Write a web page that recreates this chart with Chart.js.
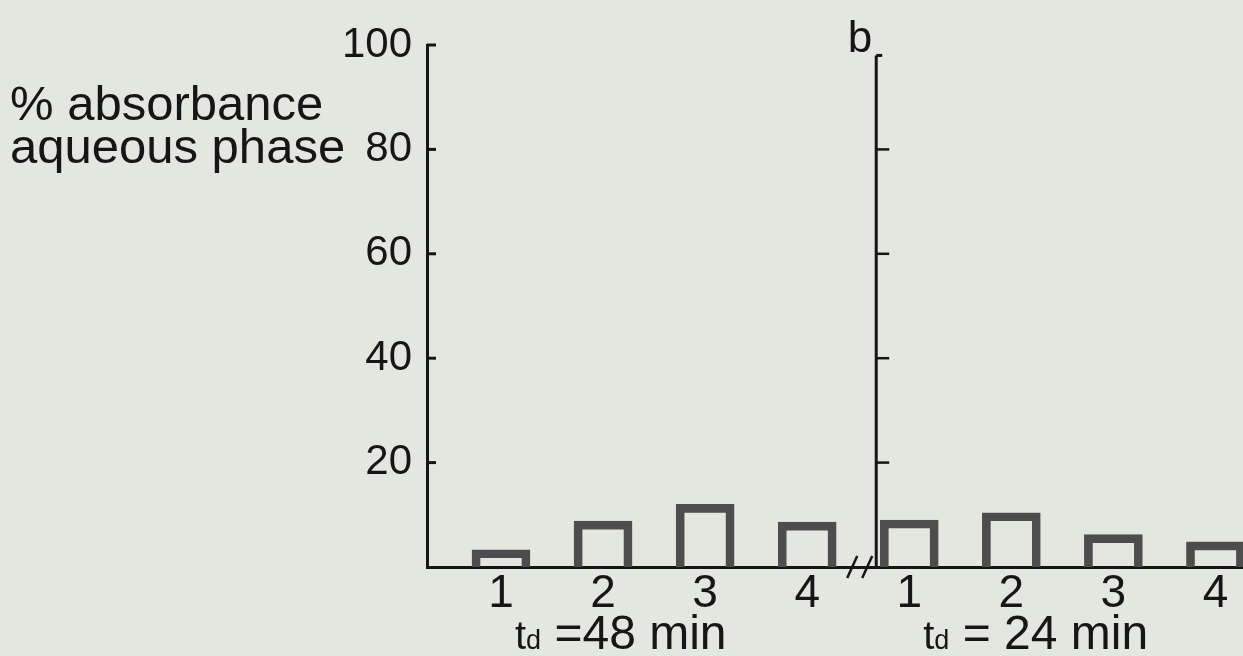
<!DOCTYPE html>
<html>
<head>
<meta charset="utf-8">
<script src="https://cdn.jsdelivr.net/npm/chart.js@4.4.1/dist/chart.umd.min.js"></script>
<style>
  html, body { margin: 0; padding: 0; background: #e3e7e0; }
  #chart { display: block; }
</style>
</head>
<body>
<canvas id="chart" width="1243" height="656"></canvas>
<script>
// data
const sampleLabels = ["1", "2", "3", "4"];
const groupLabels = [" =48 min", " = 24 min"]; // each one preceded by "td"
const absorb48 = [3.3, 8.8, 12, 8.6];
const absorb24 = [9, 10.4, 6.2, 4.8];
const yTickValues = [20, 40, 60, 80, 100];
const rightTickValues = [20, 40, 60, 80];

const INK = "#161616";
const FONT = "'Liberation Sans', Arial, sans-serif";

const values = absorb48.concat(absorb24);
const points = values.map((v, i) => ({ x: i + 1, y: v }));

function line(ctx, x1, y1, x2, y2) {
  ctx.beginPath();
  ctx.moveTo(x1, y1);
  ctx.lineTo(x2, y2);
  ctx.stroke();
}

const decor = {
  id: "decor",
  afterDraw(chart) {
    const ctx = chart.ctx;
    const xs = chart.scales.x;
    const ys = chart.scales.y;
    const y0 = ys.getPixelForValue(0);
    const axL = chart.chartArea.left;

    ctx.save();
    ctx.strokeStyle = INK;
    ctx.lineWidth = 3;

    // tick stubs pointing into the plot
    yTickValues.forEach((v) => {
      const y = ys.getPixelForValue(v);
      line(ctx, axL, y, axL + 9, y);
    });

    // second panel axis
    const axR = xs.getPixelForValue(4.5) + 18;
    const topR = ys.getPixelForValue(98);
    line(ctx, axR, topR, axR, y0);
    line(ctx, axR, topR, axR + 6, topR);
    ctx.lineWidth = 2.5;
    rightTickValues.forEach((v) => {
      const y = ys.getPixelForValue(v);
      line(ctx, axR, y, axR + 13, y);
    });

    // axis break //
    [-24, -9].forEach((dx) => {
      line(ctx, axR + dx - 5, y0 + 11, axR + dx + 5, y0 - 11);
    });

    // y title
    ctx.fillStyle = INK;
    ctx.textAlign = "left";
    ctx.textBaseline = "alphabetic";
    ctx.font = "49px " + FONT;
    ctx.fillText("% absorbance", 10, 120);
    ctx.fillText("aqueous phase", 10, 163);

    // panel letter
    ctx.font = "44px " + FONT;
    ctx.textAlign = "right";
    ctx.fillText("b", axR - 4, 52);

    // group labels t_d = ...
    ctx.textAlign = "left";
    const base = 649;
    groupLabels.forEach((txt, g) => {
      let x = xs.getPixelForValue(1 + g * 4) + 14;
      ctx.font = "40px " + FONT;
      ctx.fillText("t", x, base);
      x += ctx.measureText("t").width;
      ctx.font = "27px " + FONT;
      ctx.fillText("d", x, base);
      x += ctx.measureText("d").width;
      ctx.font = "48px " + FONT;
      ctx.fillText(txt, x, base);
    });
    ctx.restore();
  }
};

new Chart(document.getElementById("chart"), {
  type: "bar",
  data: {
    datasets: [
      {
        data: points,
        backgroundColor: "rgba(0,0,0,0)",
        borderColor: "#4d4d4d",
        borderWidth: 8,
        barThickness: 58,
      },
    ],
  },
  options: {
    responsive: false,
    animation: false,
    layout: { padding: { top: 45, left: 0, right: 0, bottom: 0 } },
    plugins: { legend: { display: false }, tooltip: { enabled: false } },
    scales: {
      x: {
        type: "linear",
        min: 0.275,
        max: 8.27,
        offset: false,
        afterFit: (s) => { s.height = 89; },
        afterBuildTicks: (s) => {
          s.ticks = values.map((v, i) => ({ value: i + 1 }));
        },
        grid: { display: false, drawTicks: false },
        border: { display: true, color: INK, width: 3 },
        ticks: {
          autoSkip: false,
          maxRotation: 0,
          padding: 0,
          color: INK,
          font: { family: FONT, size: 46 },
          callback: (v) => sampleLabels[(Math.round(v) - 1) % 4],
        },
      },
      y: {
        min: 0,
        max: 100,
        afterFit: (s) => { s.width = 427; },
        grid: { display: false, drawTicks: false },
        border: { display: true, color: INK, width: 3 },
        ticks: {
          stepSize: 20,
          padding: 15,
          color: INK,
          font: { family: FONT, size: 42 },
          callback: (v) => (yTickValues.includes(v) ? v : ""),
        },
      },
    },
  },
  plugins: [decor],
});
</script>
</body>
</html>
